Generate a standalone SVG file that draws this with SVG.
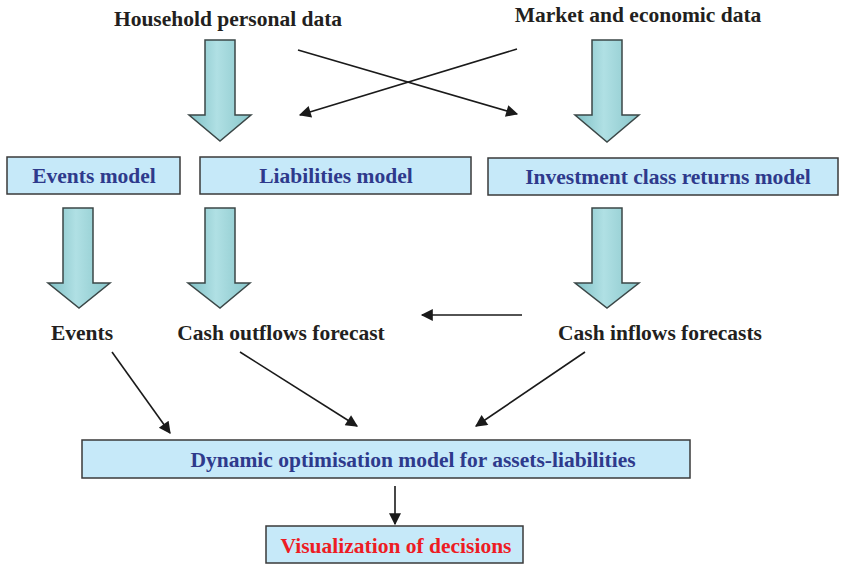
<svg xmlns="http://www.w3.org/2000/svg" width="841" height="565" viewBox="0 0 841 565">
<defs>
<linearGradient id="shaft" x1="0" y1="0" x2="1" y2="0">
<stop offset="0" stop-color="#7fc0c5"/>
<stop offset="0.45" stop-color="#b0e0e4"/>
<stop offset="1" stop-color="#88c6ca"/>
</linearGradient>
<marker id="ah2" viewBox="0 0 10 10" refX="9" refY="5" markerWidth="15" markerHeight="12" orient="auto" markerUnits="userSpaceOnUse">
<path d="M0,0 L10,5 L0,10 Z" fill="#1a1a1a"/>
</marker>
</defs>
<style>
.lbl{font-family:"Liberation Serif","Times New Roman",serif;font-weight:bold;font-size:21.5px;fill:#231f20;text-anchor:middle}
.box{fill:#c6e9f9;stroke:#3a3a3a;stroke-width:1.5}
.bt{font-family:"Liberation Serif","Times New Roman",serif;font-weight:bold;font-size:21.5px;fill:#2e3a8c;text-anchor:middle}
.red{fill:#ed1c24}
.big{fill:url(#shaft);stroke:#3b4747;stroke-width:1.5;stroke-linejoin:miter}
.conn{stroke:#1a1a1a;stroke-width:1.6;fill:none}
</style>

<g id="household"><text class="lbl" x="228" y="26">Household personal data</text></g>
<g id="market"><text class="lbl" x="638" y="22">Market and economic data</text></g>

<g id="bigarrows">
<path class="big" d="M205,40 H235 V115 H251 L220,141 L189,115 H205 Z"/>
<path class="big" d="M592,40 H622 V115 H639 L607,142 L575,115 H592 Z"/>
<path class="big" d="M63,208 H93 V283 H110 L79,308 L48,283 H63 Z"/>
<path class="big" d="M205,208 H235 V283 H250 L220,308 L188,283 H205 Z"/>
<path class="big" d="M592,208 H622 V283 H639 L607,308 L575,283 H592 Z"/>
</g>

<g id="events-model"><rect class="box" x="7" y="157" width="173" height="37"/><text class="bt" x="94" y="183">Events model</text></g>
<g id="liabilities-model"><rect class="box" x="200" y="157" width="271" height="37"/><text class="bt" x="336" y="183">Liabilities model</text></g>
<g id="investment-model"><rect class="box" x="488" y="158" width="350" height="37"/><text class="bt" x="668" y="184">Investment class returns model</text></g>

<g id="events"><text class="lbl" x="82" y="340">Events</text></g>
<g id="cash-outflows"><text class="lbl" x="281" y="340">Cash outflows forecast</text></g>
<g id="cash-inflows"><text class="lbl" x="660" y="340">Cash inflows forecasts</text></g>

<g id="dynamic-model"><rect class="box" x="82" y="440" width="608" height="38"/><text class="bt" x="413" y="467">Dynamic optimisation model for assets-liabilities</text></g>
<g id="visualization"><rect class="box" x="266" y="526" width="257" height="37"/><text class="bt red" x="396" y="553">Visualization of decisions</text></g>

<g id="connectors">
<line class="conn" x1="298" y1="50" x2="517" y2="114" marker-end="url(#ah2)"/>
<line class="conn" x1="517" y1="49" x2="300" y2="115" marker-end="url(#ah2)"/>
<line class="conn" x1="522" y1="315" x2="422" y2="315" marker-end="url(#ah2)"/>
<line class="conn" x1="112" y1="352" x2="170" y2="433" marker-end="url(#ah2)"/>
<line class="conn" x1="240" y1="352" x2="357" y2="426" marker-end="url(#ah2)"/>
<line class="conn" x1="585" y1="352" x2="476" y2="426" marker-end="url(#ah2)"/>
<line class="conn" x1="395" y1="486" x2="395" y2="524" marker-end="url(#ah2)"/>
</g>
</svg>
